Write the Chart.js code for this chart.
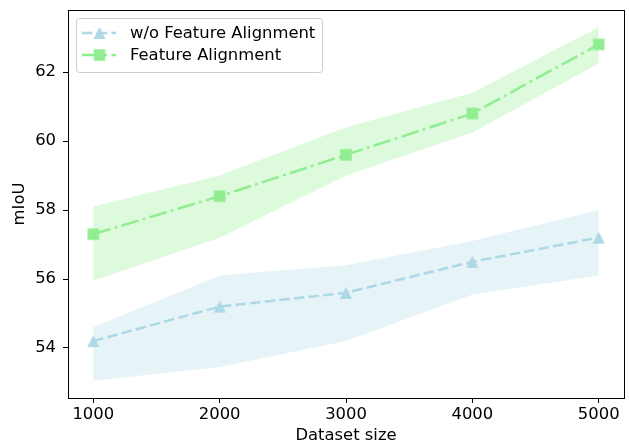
<!DOCTYPE html>
<html>
<head>
<meta charset="utf-8">
<script src="https://cdn.jsdelivr.net/npm/chart.js@4.4.1/dist/chart.umd.min.js"></script>
<style>
  html, body { margin: 0; padding: 0; background: #fff; }
</style>
</head>
<body>
<canvas id="chart" width="629" height="446"></canvas>
<script>
// data
const datasetSizes = [1000, 2000, 3000, 4000, 5000];
const baselineMean = [54.2, 55.2, 55.6, 56.5, 57.2];
const baselineLow = [53.05, 53.45, 54.2, 55.55, 56.1];
const baselineHigh = [54.6, 56.1, 56.4, 57.1, 58.0];
const alignedMean = [57.3, 58.4, 59.6, 60.8, 62.8];
const alignedLow = [55.95, 57.2, 59.0, 60.25, 62.25];
const alignedHigh = [58.1, 59.0, 60.4, 61.4, 63.3];
const xTicks = [1000, 2000, 3000, 4000, 5000];
const yTicks = [54, 56, 58, 60, 62];
const seriesLabels = ['w/o Feature Alignment', 'Feature Alignment'];

const BLUE = '#add8e6';
const GREEN = '#90ee90';
const FONT = 'DejaVu Sans';
const FSIZE = 16.4;

function toPoints(ys) {
    return datasetSizes.map((x, i) => ({ x: x, y: ys[i] }));
}

// marker images so the shapes match matplotlib's ^ and s
function triangleMarker(color, size) {
    const c = document.createElement('canvas');
    const n = Math.ceil(size) + 2;
    c.width = n; c.height = n;
    const g = c.getContext('2d');
    const m = n / 2, h = size / 2;
    g.fillStyle = color;
    g.beginPath();
    g.moveTo(m, m - h);
    g.lineTo(m + h, m + h);
    g.lineTo(m - h, m + h);
    g.closePath();
    g.fill();
    return c;
}

function squareMarker(color, size) {
    const c = document.createElement('canvas');
    const n = Math.ceil(size) + 2;
    c.width = n; c.height = n;
    const g = c.getContext('2d');
    g.fillStyle = color;
    g.fillRect((n - size) / 2, (n - size) / 2, size, size);
    return c;
}

const triImg = triangleMarker(BLUE, 12);
const sqImg = squareMarker(GREEN, 11.5);

const dashed = [10.3, 4.4];
const dashDot = [17.8, 4.4, 2.8, 4.4];

// no automatic label padding: the plot box is placed by hand
function clearPadding(s) {
    s.paddingLeft = 0;
    s.paddingRight = 0;
    s.paddingTop = 0;
    s.paddingBottom = 0;
}

// full box around the axes, like matplotlib spines
const framePlugin = {
    id: 'frame',
    afterDraw(chart) {
        const a = chart.chartArea;
        const ctx = chart.ctx;
        ctx.save();
        ctx.strokeStyle = '#000';
        ctx.lineWidth = 1;
        ctx.strokeRect(Math.round(a.left) + 0.5, Math.round(a.top) + 0.5,
            Math.round(a.right - a.left), Math.round(a.bottom - a.top));
        ctx.restore();
    }
};

// legend in the upper-left corner with line + marker handles
const boxLegend = {
    id: 'boxLegend',
    afterDraw(chart) {
        const ctx = chart.ctx;
        const x0 = 76, y0 = 18, w = 246, h = 54;
        ctx.save();
        ctx.fillStyle = 'rgba(255,255,255,0.8)';
        ctx.strokeStyle = '#cccccc';
        ctx.lineWidth = 1;
        ctx.beginPath();
        ctx.roundRect(x0 + 0.5, y0 + 0.5, w, h, 3);
        ctx.fill();
        ctx.stroke();

        const rows = [33, 55];
        [0, 1].forEach(i => {
            const ds = chart.data.datasets[i];
            const y = rows[i];
            ctx.strokeStyle = ds.borderColor;
            ctx.lineWidth = ds.borderWidth;
            ctx.setLineDash(ds.borderDash);
            ctx.beginPath();
            ctx.moveTo(82, y);
            ctx.lineTo(116, y);
            ctx.stroke();
            ctx.setLineDash([]);
            const img = ds.pointStyle;
            ctx.drawImage(img, 99.5 - img.width / 2, y - img.height / 2);
            ctx.fillStyle = '#000';
            ctx.font = FSIZE + 'px "' + FONT + '"';
            ctx.textBaseline = 'middle';
            ctx.textAlign = 'left';
            ctx.fillText(ds.label, 130, y + 1);
        });
        ctx.restore();
    }
};

const ctx = document.getElementById('chart').getContext('2d');
new Chart(ctx, {
    type: 'line',
    data: {
        datasets: [
            {
                label: seriesLabels[0],
                data: toPoints(baselineMean),
                borderColor: BLUE,
                borderWidth: 2.5,
                borderDash: dashed,
                pointStyle: triImg,
                pointRadius: 6,
                fill: false
            },
            {
                label: seriesLabels[1],
                data: toPoints(alignedMean),
                borderColor: GREEN,
                borderWidth: 2.5,
                borderDash: dashDot,
                pointStyle: sqImg,
                pointRadius: 6,
                fill: false
            },
            {
                label: 'baseline band',
                data: toPoints(baselineHigh),
                borderWidth: 0,
                pointRadius: 0,
                backgroundColor: 'rgba(173,216,230,0.3)',
                fill: 3
            },
            {
                label: 'baseline low',
                data: toPoints(baselineLow),
                borderWidth: 0,
                pointRadius: 0,
                fill: false
            },
            {
                label: 'aligned band',
                data: toPoints(alignedHigh),
                borderWidth: 0,
                pointRadius: 0,
                backgroundColor: 'rgba(144,238,144,0.3)',
                fill: 5
            },
            {
                label: 'aligned low',
                data: toPoints(alignedLow),
                borderWidth: 0,
                pointRadius: 0,
                fill: false
            }
        ]
    },
    options: {
        responsive: false,
        animation: false,
        devicePixelRatio: 1,
        layout: { autoPadding: false, padding: { top: 10, right: 5, left: 0, bottom: 0 } },
        plugins: {
            legend: { display: false },
            tooltip: { enabled: false }
        },
        scales: {
            x: {
                type: 'linear',
                min: 800,
                max: 5200,
                afterFit: s => { s.height = 48; clearPadding(s); },
                afterBuildTicks: s => { s.ticks = xTicks.map(v => ({ value: v })); },
                grid: { drawOnChartArea: false, drawTicks: true, tickLength: 5, tickColor: '#000' },
                border: { display: false },
                ticks: {
                    color: '#000',
                    padding: 2,
                    maxRotation: 0,
                    font: { family: FONT, size: FSIZE },
                    callback: v => String(v)
                },
                title: {
                    display: true,
                    text: 'Dataset size',
                    color: '#000',
                    font: { family: FONT, size: FSIZE },
                    padding: { top: 0, bottom: 0 }
                }
            },
            y: {
                min: 52.55,
                max: 63.8,
                afterFit: s => { s.width = 68; clearPadding(s); },
                afterBuildTicks: s => { s.ticks = yTicks.map(v => ({ value: v })); },
                grid: { drawOnChartArea: false, drawTicks: true, tickLength: 5, tickColor: '#000' },
                border: { display: false },
                ticks: {
                    color: '#000',
                    padding: 7,
                    font: { family: FONT, size: FSIZE },
                    callback: v => String(v)
                },
                title: {
                    display: true,
                    text: 'mIoU',
                    color: '#000',
                    font: { family: FONT, size: FSIZE },
                    padding: { top: 10, bottom: 0 }
                }
            }
        }
    },
    plugins: [framePlugin, boxLegend]
});
</script>
</body>
</html>
